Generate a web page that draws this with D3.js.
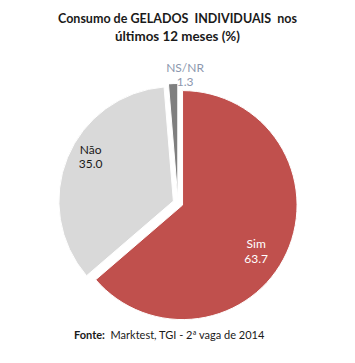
<!DOCTYPE html>
<html>
<head>
<meta charset="utf-8">
<script src="https://cdn.jsdelivr.net/npm/d3@7"></script>
<style>
  html, body { margin: 0; padding: 0; background: #ffffff; }
  svg { display: block; }
</style>
</head>
<body>
<svg id="chart" width="355" height="363"></svg>
<script>
// ---- data ----
const categories = ["Sim", "Não", "NS/NR"];
const values = [63.7, 35.0, 1.3];
const valueLabels = ["63.7", "35.0", "1.3"];
const titleLines = ["Consumo de GELADOS  INDIVIDUAIS  nos", "últimos 12 meses (%)"];
const sourceBold = "Fonte:";
const sourceText = "  Marktest, TGI - 2ª vaga de 2014";

// ---- styles ----
const colors = { "Sim": "#C0504D", "Não": "#D9D9D9", "NS/NR": "#7F7F7F" };
const labelColors = { "Sim": "#ffffff", "Não": "#1a1a1a", "NS/NR": "#8C97AE" };
// label placement: angle nudge (deg) and radius from slice apex
const labelPlace = { "Sim": { da: 7.5, r: 87 }, "Não": { da: 6, r: 94 }, "NS/NR": { da: 5.7, r: 123.7 } };
const titleWidths = [239, 125];
const FONT = "Lato, 'Open Sans', sans-serif";

const svg = d3.select("#chart");
const cx = 178, cy = 203, R = 114.5, explode = 5;

svg.append("g").selectAll("text").data(titleLines).join("text")
  .attr("x", 177.5).attr("y", (d, i) => 23 + i * 18)
  .attr("text-anchor", "middle")
  .attr("font-family", FONT).attr("font-weight", "bold").attr("font-size", 13)
  .attr("fill", "#1a1a1a")
  .attr("textLength", (d, i) => titleWidths[i])
  .attr("lengthAdjust", "spacingAndGlyphs")
  .style("white-space", "pre")
  .text(d => d);

const data = categories.map((c, i) => ({ cat: c, value: values[i], label: valueLabels[i] }));
const pie = d3.pie().sort(null).value(d => d.value).startAngle(0).endAngle(2 * Math.PI);
const arcs = pie(data);
const arc = d3.arc().innerRadius(0).outerRadius(R);

const g = svg.append("g").attr("transform", `translate(${cx},${cy})`);
const slices = g.selectAll("g.slice").data(arcs).join("g").attr("class", "slice")
  .attr("transform", d => {
    const a = (d.startAngle + d.endAngle) / 2;
    return `translate(${explode * Math.sin(a)},${-explode * Math.cos(a)})`;
  });
slices.append("path")
  .attr("d", arc)
  .attr("fill", d => colors[d.data.cat])
  .attr("stroke", "#ffffff").attr("stroke-width", 1);

slices.each(function(d) {
  const p = labelPlace[d.data.cat];
  const a = (d.startAngle + d.endAngle) / 2 + p.da * Math.PI / 180;
  const x = p.r * Math.sin(a), y = -p.r * Math.cos(a);
  const t = d3.select(this).append("text")
    .attr("text-anchor", "middle")
    .attr("font-family", FONT).attr("font-size", 12)
    .attr("fill", labelColors[d.data.cat]);
  t.append("tspan").attr("x", x).attr("y", y - 3).text(d.data.cat);
  t.append("tspan").attr("x", x).attr("y", y + 11.5).text(d.data.label);
});

const src = svg.append("text").attr("x", 74).attr("y", 339)
  .attr("font-family", FONT).attr("font-size", 11).attr("fill", "#1a1a1a")
  .style("white-space", "pre");
src.append("tspan").attr("font-weight", "bold").text(sourceBold);
src.append("tspan").text(sourceText);
</script>
</body>
</html>
